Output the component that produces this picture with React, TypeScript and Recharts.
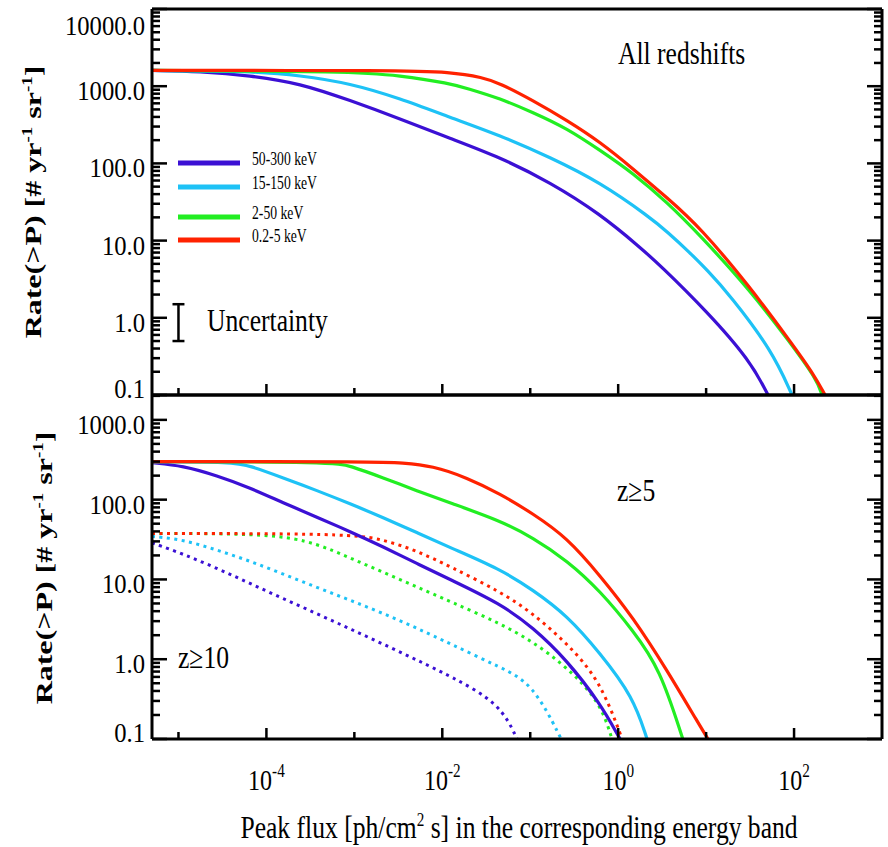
import React from 'react';
import { LineChart, Line, XAxis, YAxis, ReferenceLine } from 'recharts';

type Pt = [number, number];

// peak flux [ph/cm^2 s] vs rate(>P) [# / yr / sr]

// top panel: all redshifts
const allBlue: Pt[] = [
  [5e-6, 1600], [1.76e-5, 1550], [6.5e-5, 1380], [2.41e-4, 1090], [8.93e-4, 655],
  [3.3e-3, 378], [1.22e-2, 211], [4.53e-2, 120], [0.168, 57], [0.621, 22.2],
  [1.77, 8.2], [2.99, 4.8], [10.2, 1.21], [31.6, 0.28], [50.6, 0.1],
];
const allCyan: Pt[] = [
  [5e-6, 1600], [6.5e-5, 1570], [2.41e-4, 1380], [8.93e-4, 1090], [3.3e-3, 695],
  [1.22e-2, 395], [4.53e-2, 231], [0.168, 120], [0.621, 57], [2.3, 20],
  [3.59, 13.1], [6.56, 6.97], [10.2, 4.18], [18.7, 1.96], [56.1, 0.377], [94.8, 0.1],
];
const allGreen: Pt[] = [
  [5e-6, 1600], [8.93e-4, 1550], [3.3e-3, 1380], [1.22e-2, 1090], [1.91e-2, 937],
  [4.53e-2, 695], [0.107, 458], [0.262, 284], [0.621, 148], [1.48, 74.5],
  [3.59, 31.4], [8.53, 11.7], [31.6, 2.28], [89.9, 0.48], [182, 0.158], [208, 0.1],
];
const allRed: Pt[] = [
  [5e-6, 1600], [3.3e-3, 1600], [1.22e-2, 1530], [2.9e-2, 1300], [4.53e-2, 1090],
  [0.107, 655], [0.262, 361], [0.621, 190], [1.48, 85], [3.59, 36],
  [8.53, 14.9], [31.6, 2.5], [89.9, 0.5], [164, 0.193], [225, 0.1],
];

// bottom panel: z >= 5 (solid)
const z5Blue: Pt[] = [
  [5e-6, 290], [1.125e-5, 266], [2.74e-5, 200], [6.5e-5, 141], [1.55e-4, 91.2],
  [3.76e-4, 60.3], [8.93e-4, 39.8], [2.12e-3, 25.7], [5.15e-3, 15.8], [1.22e-2, 10],
  [4.53e-2, 5.0], [0.107, 2.51], [0.262, 0.97], [0.621, 0.282], [1.05, 0.1],
];
const z5Cyan: Pt[] = [
  [5e-6, 300], [4.17e-5, 296], [6.5e-5, 266], [1.55e-4, 188], [3.76e-4, 130],
  [8.93e-4, 89], [2.12e-3, 59.6], [5.15e-3, 38.7], [1.22e-2, 25.1], [4.53e-2, 13.5],
  [0.107, 7.41], [0.262, 3.55], [0.621, 1.2], [1.48, 0.339], [2.13, 0.1],
];
const z5Green: Pt[] = [
  [5e-6, 300], [5.71e-4, 296], [8.93e-4, 266], [2.12e-3, 188], [5.15e-3, 129],
  [1.22e-2, 91.2], [4.53e-2, 54.6], [0.107, 33.5], [0.262, 17.3], [0.621, 7.24],
  [1.476, 2.29], [2.99, 0.759], [5.43, 0.1],
];
const z5Red: Pt[] = [
  [5e-6, 300], [2.12e-3, 299], [3.3e-3, 290], [7.83e-3, 266], [1.91e-2, 188],
  [4.53e-2, 119], [0.107, 66.8], [0.262, 33.5], [0.621, 11.2], [1.476, 3.35],
  [3.59, 0.73], [8.53, 0.145], [10.5, 0.1],
];

// bottom panel: z >= 10 (dotted)
const z10Blue: Pt[] = [
  [5e-6, 28.8], [1.125e-5, 20.9], [2.74e-5, 13.8], [6.5e-5, 8.91], [1.55e-4, 5.75],
  [3.76e-4, 3.72], [8.93e-4, 2.4], [2.12e-3, 1.55], [5.15e-3, 0.977], [1.22e-2, 0.617],
  [4.53e-2, 0.282], [7.08e-2, 0.1],
];
const z10Cyan: Pt[] = [
  [5e-6, 34.7], [1.125e-5, 31.6], [2.74e-5, 23.4], [6.5e-5, 17], [1.55e-4, 11.7],
  [3.76e-4, 7.94], [8.93e-4, 5.5], [2.12e-3, 3.76], [5.15e-3, 2.45], [1.22e-2, 1.57],
  [4.53e-2, 0.794], [0.107, 0.5], [0.225, 0.1],
];
const z10Green: Pt[] = [
  [5e-6, 37.6], [1.19e-4, 37.6], [3.76e-4, 28.2], [8.93e-4, 18.6], [2.12e-3, 12.3],
  [5.15e-3, 8.04], [1.22e-2, 5.31], [4.53e-2, 2.82], [0.107, 1.66], [0.262, 0.794],
  [0.621, 0.295], [0.851, 0.1],
];
const z10Red: Pt[] = [
  [5e-6, 37.6], [8.93e-4, 37.6], [2.12e-3, 31.6], [5.15e-3, 22.9], [1.22e-2, 14.5],
  [4.53e-2, 7.08], [0.107, 3.76], [0.262, 1.58], [0.621, 0.546], [1.11, 0.1],
];

// uncertainty bar: x position and the low/high rate it spans
const uncertaintyX = 1e-5;
const uncertaintyY: [number, number] = [0.5, 1.5];

const bandNames = ['50-300 keV', '15-150 keV', '2-50 keV', '0.2-5 keV'];
const bandColors = ['#3b10d4', '#1ec2f6', '#22ee22', '#ff2200'];

const xDomain: [number, number] = [5e-6, 1000];
const xMajor = [1e-4, 1e-2, 1, 100];
const xMinor = [1e-5, 1e-3, 1e-1, 10];
const topMajor = [0.1, 1, 10, 100, 1000, 10000];
const bottomMajor = [0.1, 1, 10, 100, 1000];
const topYDomain: [number, number] = [0.1, 10000];
const bottomYDomain: [number, number] = [0.1, 2050];

const FONT = "'Liberation Serif', 'Times New Roman', serif";
const SX = 0.8;

const withMinors = (majors: number[], max: number) =>
  majors
    .flatMap((m) => [m, ...[2, 3, 4, 5, 6, 7, 8, 9].map((k) => m * k)])
    .filter((v) => v <= max * 1.0001);

const xTicks = [...xMinor, ...xMajor].sort((a, b) => a - b);
const isDecade = (v: number) => Math.abs(Math.log10(v) - Math.round(Math.log10(v))) < 1e-6;
const rows = (pts: Pt[]) => pts.map(([x, y]) => ({ x, y }));

function makeYTick(side: 'left' | 'right', top: number, bottom: number) {
  return (props: any) => {
    const { x, y, payload } = props;
    const v = payload.value as number;
    const major = isDecade(v);
    const len = major ? 15 : 8;
    const dir = side === 'left' ? 1 : -1;
    const ly = Math.min(Math.max(y + 5, top + 17), bottom - 6);
    return (
      <g>
        <line x1={x} x2={x + dir * len} y1={y} y2={y} stroke="#000" strokeWidth={2.5} />
        {side === 'left' && major && (
          <text
            transform={`translate(${x - 7},${ly}) scale(0.88,1)`}
            textAnchor="end"
            dominantBaseline="central"
            fontFamily={FONT}
            fontSize={28}
            fill="#000"
          >
            {v.toFixed(1)}
          </text>
        )}
      </g>
    );
  };
}

function makeXTick(side: 'top' | 'bottom', labels: boolean) {
  return (props: any) => {
    const { x, y, payload } = props;
    const v = payload.value as number;
    const major = xMajor.includes(v);
    const len = major ? 11 : 7;
    const dir = side === 'bottom' ? -1 : 1;
    return (
      <g>
        <line x1={x} x2={x} y1={y} y2={y + dir * len} stroke="#000" strokeWidth={2.5} />
        {labels && major && (
          <text
            transform={`translate(${x},${y + 51}) scale(${SX},1)`}
            textAnchor="middle"
            fontFamily={FONT}
            fontSize={30}
            fill="#000"
          >
            <tspan>10</tspan>
            <tspan dy={-13} fontSize={19}>
              {String(Math.round(Math.log10(v)))}
            </tspan>
          </text>
        )}
      </g>
    );
  };
}

function SText({
  x,
  y,
  size = 32,
  sx = SX,
  anchor = 'start',
  weight,
  rotate,
  children,
}: {
  x: number;
  y: number;
  size?: number;
  sx?: number;
  anchor?: 'start' | 'middle' | 'end';
  weight?: string;
  rotate?: number;
  children: React.ReactNode;
}) {
  const t = `translate(${x},${y}) scale(${sx},1)${rotate ? ` rotate(${rotate})` : ''}`;
  return (
    <text transform={t} textAnchor={anchor} fontFamily={FONT} fontSize={size} fontWeight={weight} fill="#000">
      {children}
    </text>
  );
}

function RateTitle({ x, y }: { x: number; y: number }) {
  return (
    <SText x={x} y={y} size={32} sx={0.75} anchor="middle" weight="bold" rotate={-90}>
      Rate(&gt;P) [# yr
      <tspan dy={-12} fontSize={19}>-1</tspan>
      <tspan dy={12}> sr</tspan>
      <tspan dy={-12} fontSize={19}>-1</tspan>
      <tspan dy={12}>]</tspan>
    </SText>
  );
}

const axisLine = { stroke: '#000', strokeWidth: 3 };

// shared axis props; heights/widths set where used so the plot boxes line up
const logX = {
  type: 'number' as const,
  scale: 'log' as const,
  domain: xDomain,
  allowDataOverflow: true,
  ticks: xTicks,
  interval: 0 as const,
  tickSize: 0,
  tickMargin: 0,
  tickLine: false,
  axisLine,
};

const logY = (domain: [number, number], ticks: number[]) => ({
  type: 'number' as const,
  scale: 'log' as const,
  domain,
  allowDataOverflow: true,
  ticks,
  interval: 0 as const,
  tickSize: 0,
  tickMargin: 0,
  tickLine: false,
  axisLine,
});

export default function App() {
  const topTicks = withMinors(topMajor.slice(0, -1), topYDomain[1]).concat([10000]);
  const bottomTicks = withMinors(bottomMajor, bottomYDomain[1]);

  const topSeries = [allBlue, allCyan, allGreen, allRed];
  const solidSeries = [z5Blue, z5Cyan, z5Green, z5Red];
  const dottedSeries = [z10Blue, z10Cyan, z10Green, z10Red];

  const capL = uncertaintyX * Math.pow(10, -0.068);
  const capR = uncertaintyX * Math.pow(10, 0.068);

  return (
    <div style={{ position: 'absolute', left: 0, top: 0, width: 888, height: 847, overflow: 'hidden', background: '#fff' }}>
      <div style={{ position: 'absolute', left: 0, top: 0 }}>
        <LineChart width={888} height={420} margin={{ top: 0, right: 0, bottom: 0, left: 0 }}>
          <XAxis dataKey="x" {...logX} height={25} tick={makeXTick('bottom', false)} />
          <XAxis xAxisId="top" orientation="top" {...logX} height={9} tick={makeXTick('top', false)} />
          <YAxis {...logY(topYDomain, topTicks)} width={152} tick={makeYTick('left', 9, 395)} />
          <YAxis
            yAxisId="right"
            orientation="right"
            {...logY(topYDomain, topTicks)}
            width={6}
            tick={makeYTick('right', 9, 395)}
          />
          <ReferenceLine
            segment={[{ x: uncertaintyX, y: uncertaintyY[0] }, { x: uncertaintyX, y: uncertaintyY[1] }]}
            stroke="#000"
            strokeWidth={2.5}
          />
          <ReferenceLine
            segment={[{ x: capL, y: uncertaintyY[0] }, { x: capR, y: uncertaintyY[0] }]}
            stroke="#000"
            strokeWidth={2.5}
          />
          <ReferenceLine
            segment={[{ x: capL, y: uncertaintyY[1] }, { x: capR, y: uncertaintyY[1] }]}
            stroke="#000"
            strokeWidth={2.5}
          />
          {topSeries.map((s, i) => (
            <Line
              key={bandNames[i]}
              data={rows(s)}
              dataKey="y"
              type="basis"
              stroke={bandColors[i]}
              strokeWidth={3.2}
              dot={false}
              activeDot={false}
              isAnimationActive={false}
            />
          ))}
        </LineChart>
      </div>

      <div style={{ position: 'absolute', left: 0, top: 0 }}>
        <LineChart width={888} height={847} margin={{ top: 0, right: 0, bottom: 0, left: 0 }}>
          <XAxis dataKey="x" {...logX} height={108} tick={makeXTick('bottom', true)} />
          <XAxis xAxisId="top" orientation="top" {...logX} height={395} tick={makeXTick('top', false)} />
          <YAxis {...logY(bottomYDomain, bottomTicks)} width={152} tick={makeYTick('left', 395, 739)} />
          <YAxis
            yAxisId="right"
            orientation="right"
            {...logY(bottomYDomain, bottomTicks)}
            width={6}
            tick={makeYTick('right', 395, 739)}
          />
          {dottedSeries.map((s, i) => (
            <Line
              key={`z10-${bandNames[i]}`}
              data={rows(s)}
              dataKey="y"
              type="basis"
              stroke={bandColors[i]}
              strokeWidth={3}
              strokeDasharray="3 4.5"
              dot={false}
              activeDot={false}
              isAnimationActive={false}
            />
          ))}
          {solidSeries.map((s, i) => (
            <Line
              key={`z5-${bandNames[i]}`}
              data={rows(s)}
              dataKey="y"
              type="basis"
              stroke={bandColors[i]}
              strokeWidth={3.2}
              dot={false}
              activeDot={false}
              isAnimationActive={false}
            />
          ))}
        </LineChart>
      </div>

      <svg width={888} height={847} style={{ position: 'absolute', left: 0, top: 0, pointerEvents: 'none' }}>
        {bandNames.map((name, i) => {
          const ly = [163, 187, 217, 240][i];
          return (
            <g key={name}>
              <line x1={178} x2={240} y1={ly} y2={ly} stroke={bandColors[i]} strokeWidth={5} />
              <SText x={252} y={ly + 2} size={19} sx={0.72}>
                {name}
              </SText>
            </g>
          );
        })}
        <SText x={618} y={64}>All redshifts</SText>
        <SText x={207} y={331}>Uncertainty</SText>
        <SText x={617} y={501}>z≥5</SText>
        <SText x={178} y={668}>z≥10</SText>
        <RateTitle x={41} y={202} />
        <RateTitle x={52} y={568} />
        <SText x={519} y={838} anchor="middle">
          Peak flux [ph/cm
          <tspan dy={-12} fontSize={19}>2</tspan>
          <tspan dy={12}> s] in the corresponding energy band</tspan>
        </SText>
      </svg>
    </div>
  );
}
